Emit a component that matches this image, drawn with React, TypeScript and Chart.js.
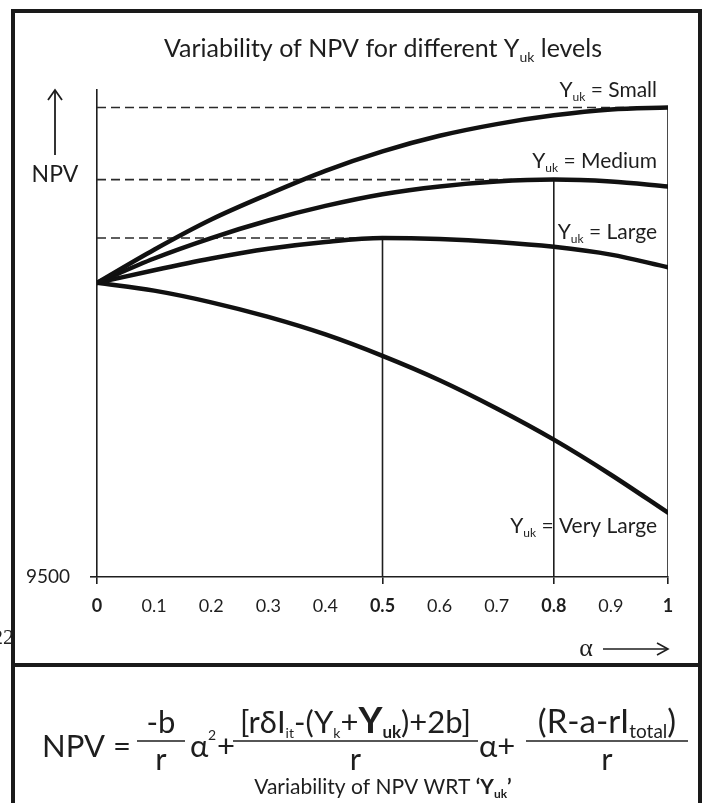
import React, { useEffect, useRef } from 'react';
import { Chart, registerables } from 'chart.js';

Chart.register(...registerables);

// ---------------- data ----------------
const ALPHA = [0, 0.1, 0.2, 0.3, 0.4, 0.5, 0.6, 0.7, 0.8, 0.9, 1];
const NPV_SMALL = [9802, 9836, 9867, 9893, 9917, 9937, 9953, 9965, 9974, 9980, 9982];
const NPV_MEDIUM = [9802, 9827, 9848, 9866, 9881, 9893, 9901, 9906, 9908, 9906, 9901];
const NPV_LARGE = [9802, 9815, 9827, 9837, 9844, 9848, 9847, 9844, 9839, 9831, 9818];
const NPV_VERY_LARGE = [9802, 9794, 9782, 9767, 9749, 9727, 9702, 9673, 9641, 9605, 9566];
const SERIES_NAMES = ['Small', 'Medium', 'Large', 'Very Large'];
const SERIES_WITH_GUIDES = ['Small', 'Medium', 'Large'];
const X_TICKS = [0, 0.1, 0.2, 0.3, 0.4, 0.5, 0.6, 0.7, 0.8, 0.9, 1];
const X_TICK_LABELS = ['0', '0.1', '0.2', '0.3', '0.4', '0.5', '0.6', '0.7', '0.8', '0.9', '1'];
const BOLD_X_TICKS = [0, 0.5, 0.8, 1];
const Y_MIN = 9500;
const Y_MAX = 10000;
const Y_TICKS = [9500];

const TITLE_MAIN = 'Variability of NPV for different Y';
const TITLE_SUB = 'uk';
const TITLE_END = ' levels';

// ---------------- layout / style ----------------
const W = 703;
const H = 803;
const FONT = 'Lato, "Open Sans", "DejaVu Sans", sans-serif';
const INK = '#1e1e1e';
const LABEL_BASELINES = [97, 168, 239, 533];

type Run = { t: string; size: number; bold?: boolean; dy?: number; family?: string };

function setFont(ctx: CanvasRenderingContext2D, r: Run) {
  ctx.font = `${r.bold ? 'bold ' : ''}${r.size}px ${r.family || FONT}`;
}

function runsWidth(ctx: CanvasRenderingContext2D, runs: Run[]) {
  let w = 0;
  for (const r of runs) {
    setFont(ctx, r);
    w += ctx.measureText(r.t).width;
  }
  return w;
}

function drawRuns(
  ctx: CanvasRenderingContext2D,
  runs: Run[],
  x: number,
  y: number,
  align: 'left' | 'center' | 'right',
  color = INK
) {
  const total = runsWidth(ctx, runs);
  let cx = align === 'left' ? x : align === 'center' ? x - total / 2 : x - total;
  ctx.fillStyle = color;
  ctx.textAlign = 'left';
  ctx.textBaseline = 'alphabetic';
  for (const r of runs) {
    setFont(ctx, r);
    ctx.fillText(r.t, cx, y + (r.dy || 0));
    cx += ctx.measureText(r.t).width;
  }
  return total;
}

function line(ctx: CanvasRenderingContext2D, x1: number, y1: number, x2: number, y2: number, w: number, color = INK) {
  ctx.beginPath();
  ctx.strokeStyle = color;
  ctx.lineWidth = w;
  ctx.moveTo(x1, y1);
  ctx.lineTo(x2, y2);
  ctx.stroke();
}

function frac(ctx: CanvasRenderingContext2D, num: Run[], den: Run[], x1: number, x2: number, lineY: number) {
  const cx = (x1 + x2) / 2;
  drawRuns(ctx, num, cx, lineY - 8, 'center');
  line(ctx, x1, lineY, x2, lineY, 1.6);
  drawRuns(ctx, den, cx, lineY + 29, 'center');
}

const decorPlugin = {
  id: 'decor',
  afterDraw(chart: any) {
    const ctx: CanvasRenderingContext2D = chart.ctx;
    const xs = chart.scales.x;
    ctx.save();

    // title
    drawRuns(
      ctx,
      [
        { t: TITLE_MAIN, size: 25 },
        { t: TITLE_SUB, size: 14, dy: 5 },
        { t: TITLE_END, size: 25 },
      ],
      383,
      57,
      'center'
    );

    // series labels
    const labelX = xs.getPixelForValue(1) - 11;
    SERIES_NAMES.forEach((name, i) => {
      drawRuns(
        ctx,
        [
          { t: 'Y', size: 21 },
          { t: 'uk', size: 12, dy: 4 },
          { t: ' = ' + name, size: 21 },
        ],
        labelX,
        LABEL_BASELINES[i],
        'right'
      );
    });

    // NPV axis label with arrow
    drawRuns(ctx, [{ t: 'NPV', size: 23 }], 55, 182, 'center');
    line(ctx, 55, 155, 55, 91, 1.8);
    ctx.beginPath();
    ctx.strokeStyle = INK;
    ctx.lineWidth = 1.8;
    ctx.moveTo(48, 100);
    ctx.lineTo(55, 90);
    ctx.lineTo(62, 100);
    ctx.stroke();

    // alpha arrow
    const ax = xs.getPixelForValue(1);
    drawRuns(ctx, [{ t: 'α', size: 26, family: '"Liberation Serif", serif' }], 586, 656, 'center');
    line(ctx, 603, 649, ax, 649, 1.6);
    ctx.beginPath();
    ctx.moveTo(ax - 11, 643);
    ctx.lineTo(ax, 649);
    ctx.lineTo(ax - 11, 655);
    ctx.stroke();

    // artifact digits at left edge
    drawRuns(ctx, [{ t: '22', size: 22, family: '"Liberation Serif", serif' }], 14, 644, 'right', '#222');

    // frame
    ctx.strokeStyle = '#1a1a1a';
    ctx.lineWidth = 4;
    ctx.beginPath();
    ctx.moveTo(13, H + 5);
    ctx.lineTo(13, 11);
    ctx.lineTo(700, 11);
    ctx.lineTo(700, H + 5);
    ctx.stroke();
    line(ctx, 13, 665, 700, 665, 4, '#1a1a1a');

    // formula
    const FS = 31;
    const base = 757;
    const lineY = 741;
    drawRuns(ctx, [{ t: 'NPV = ', size: 31 }], 42, base, 'left');
    frac(ctx, [{ t: '-b', size: FS }], [{ t: 'r', size: FS }], 137, 185, lineY);
    drawRuns(ctx, [{ t: 'α', size: FS }], 190, base, 'left');
    drawRuns(ctx, [{ t: '2', size: 14 }], 208, 740, 'left');
    drawRuns(ctx, [{ t: '+', size: FS }], 217, base, 'left');
    frac(
      ctx,
      [
        { t: '[rδI', size: FS },
        { t: 'it', size: 14, dy: 5 },
        { t: '-(Y', size: FS },
        { t: 'k', size: 14, dy: 5 },
        { t: '+', size: FS },
        { t: 'Y', size: FS + 6, bold: true },
        { t: 'uk', size: 17, bold: true, dy: 5 },
        { t: ')+2b]', size: FS },
      ],
      [{ t: 'r', size: FS }],
      233,
      478,
      lineY
    );
    drawRuns(ctx, [{ t: 'α+', size: FS }], 479, base, 'left');
    frac(
      ctx,
      [
        { t: '(R-a-rI', size: FS + 2 },
        { t: 'total', size: 19, dy: 5 },
        { t: ')', size: FS + 2 },
      ],
      [{ t: 'r', size: FS }],
      526,
      688,
      lineY
    );
    drawRuns(
      ctx,
      [
        { t: 'Variability of NPV WRT ', size: 21 },
        { t: '‘Y', size: 21, bold: true },
        { t: 'uk', size: 12, bold: true, dy: 4 },
        { t: '’', size: 21, bold: true },
      ],
      383,
      794,
      'center'
    );

    ctx.restore();
  },
};

function argmax(a: number[]) {
  let k = 0;
  for (let i = 1; i < a.length; i++) if (a[i] > a[k]) k = i;
  return k;
}

export default function App() {
  const ref = useRef<HTMLCanvasElement | null>(null);

  useEffect(() => {
    if (!ref.current) return;
    const seriesValues = [NPV_SMALL, NPV_MEDIUM, NPV_LARGE, NPV_VERY_LARGE];

    const curveSets = seriesValues.map((vals, i) => ({
      label: 'Y_uk = ' + SERIES_NAMES[i],
      data: ALPHA.map((a, j) => ({ x: a, y: vals[j] })),
      borderColor: '#111',
      borderWidth: 4.5,
      borderCapStyle: 'round' as const,
      pointRadius: 0,
      cubicInterpolationMode: 'monotone' as const,
      fill: false,
    }));

    const guideSets: any[] = [];
    seriesValues.forEach((vals, i) => {
      if (!SERIES_WITH_GUIDES.includes(SERIES_NAMES[i])) return;
      const k = argmax(vals);
      guideSets.push({
        label: 'peak ' + SERIES_NAMES[i],
        data: [
          { x: ALPHA[0], y: vals[k] },
          { x: ALPHA[k], y: vals[k] },
        ],
        borderColor: '#2a2a2a',
        borderWidth: 1.6,
        borderDash: [9, 5],
        pointRadius: 0,
        tension: 0,
      });
      guideSets.push({
        label: 'drop ' + SERIES_NAMES[i],
        data: [
          { x: ALPHA[k], y: vals[k] },
          { x: ALPHA[k], y: Y_MIN },
        ],
        borderColor: '#1e1e1e',
        borderWidth: 1.6,
        pointRadius: 0,
        tension: 0,
      });
    });

    const chart = new Chart(ref.current, {
      type: 'line',
      data: { datasets: [...curveSets, ...guideSets] as any },
      options: {
        responsive: false,
        animation: false,
        events: [],
        layout: { padding: { left: 0, right: 35, top: 90, bottom: 0 } },
        plugins: {
          legend: { display: false },
          tooltip: { enabled: false },
          title: { display: false },
        },
        scales: {
          x: {
            type: 'linear',
            min: 0,
            max: 1,
            afterBuildTicks: (s: any) => {
              s.ticks = X_TICKS.map((v) => ({ value: v }));
            },
            afterFit: (s: any) => {
              s.height = H - 577;
            },
            grid: {
              drawOnChartArea: false,
              drawTicks: true,
              tickLength: 7,
              lineWidth: 1.6,
              color: (c: any) => (c.tick && BOLD_X_TICKS.includes(c.tick.value) ? INK : 'rgba(0,0,0,0)'),
            },
            border: { display: true, color: INK, width: 1.6 },
            ticks: {
              padding: 11,
              color: INK,
              autoSkip: false,
              maxRotation: 0,
              font: (c: any) => ({
                family: FONT,
                size: 18,
                weight: c.tick && BOLD_X_TICKS.includes(c.tick.value) ? 'bold' : 'normal',
              }),
              callback: (_v: any, i: number) => X_TICK_LABELS[i],
            },
          },
          y: {
            type: 'linear',
            min: Y_MIN,
            max: Y_MAX,
            afterBuildTicks: (s: any) => {
              s.ticks = Y_TICKS.map((v) => ({ value: v }));
            },
            afterFit: (s: any) => {
              s.width = 97;
            },
            grid: { drawOnChartArea: false, drawTicks: true, tickLength: 7, lineWidth: 1.6, color: INK },
            border: { display: true, color: INK, width: 1.6 },
            ticks: {
              padding: 20,
              color: INK,
              font: { family: FONT, size: 19 },
              callback: (v: any) => String(v),
            },
          },
        },
      },
      plugins: [decorPlugin],
    });

    return () => chart.destroy();
  }, []);

  return (
    <div style={{ position: 'absolute', left: 0, top: 0, width: W, height: H, background: '#fff' }}>
      <canvas ref={ref} width={W} height={H} style={{ display: 'block', width: W, height: H }} />
    </div>
  );
}
